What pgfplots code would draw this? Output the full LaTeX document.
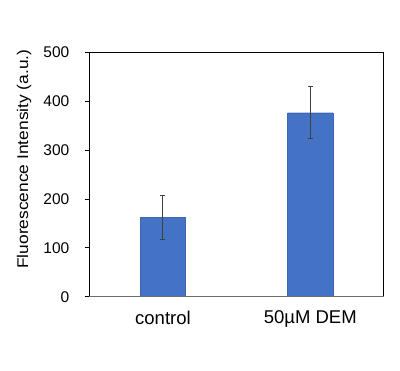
\documentclass[border=0pt]{standalone}
\usepackage{pgfplots}
\pgfplotsset{compat=1.18}
\usepackage{fontspec}
\setmainfont{Liberation Sans}
\definecolor{barblue}{HTML}{4472C4}
\definecolor{errc}{HTML}{404040}
\begin{document}
\begin{tikzpicture}[x=1pt,y=1pt]
\path[use as bounding box] (0,0) rectangle (400,371);
\begin{axis}[
  at={(89.3pt,74.3pt)}, anchor=south west,
  scale only axis, width=294.7pt, height=244.4pt,
  xmin=-0.5, xmax=1.5, ymin=0, ymax=500,
  xtick={0,1}, xticklabels={control,50µM DEM},
  ytick={0,100,200,300,400,500},
  axis line style={black, line width=1pt},
  major tick length=4.5pt,
  tick style={black, line width=0.8pt},
  xtick style={draw=none},
  ytick pos=left, tick align=outside,
  yticklabel style={font=\fontsize{15.5}{15.5}\selectfont, xshift=-12pt},
  xticklabel style={font=\fontsize{18.5}{18.5}\selectfont, yshift=-6pt},
  /pgf/number format/assume math mode=true,
  ylabel={\scalebox{1.12}[1]{Fluorescence Intensity (a.u.)}},
  ylabel style={font=\fontsize{15.5}{15.5}\selectfont, at={(axis description cs:-0.2216,0.563)}, anchor=center, rotate=0},
  clip=false,
]
\addplot[ybar, bar width=45.3pt, fill=barblue, draw=barblue!90!black, line width=0.4pt,
  error bars/.cd, y dir=both, y explicit,
  error bar style={errc, line width=1pt},
  error mark options={errc, line width=1pt, mark size=2.5pt, rotate=90}]
  coordinates {(0,162.4) +- (0,45) (1,376.4) +- (0,53.2)};
\draw[gray!85!black, line width=1.2pt] (rel axis cs:0,0) -- (rel axis cs:1,0);
\end{axis}
\end{tikzpicture}
\end{document}
